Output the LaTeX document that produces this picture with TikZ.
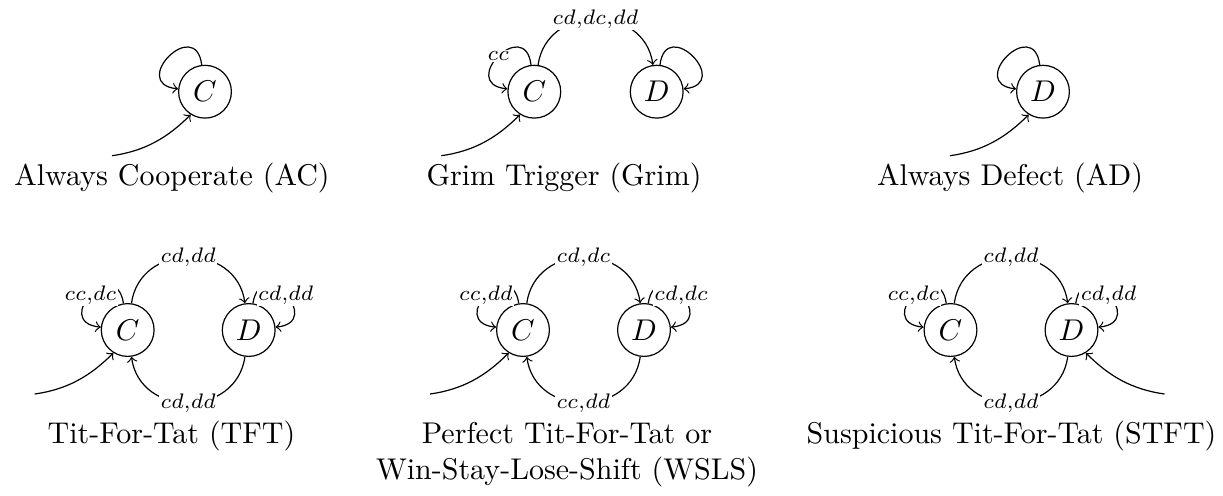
\documentclass[tikz,border=0pt]{standalone}
\begin{document}
\begin{tikzpicture}[x=0.3333pt,y=0.3333pt,
  state/.style={circle,draw,inner sep=0pt,minimum size=17.6pt},
  lbl/.style={font=\scriptsize,fill=white,inner sep=0.5pt},
  captxt/.style={anchor=base,inner sep=0pt},
  tr/.style={->}]
\useasboundingbox (0,0) rectangle (1223,495);
% ---------- Always Cooperate
\node[state] (C1) at (205,403.3) {$C$};
\coordinate (s1) at (112,339.3);
\draw[tr] (C1.97) .. controls +(97:50) and +(174:50) .. (C1.174);
\draw[tr] (s1) .. controls +(8:33) and +(225:33) .. (C1.238);
\node[captxt] (cap1) at (172,310) {Always Cooperate (AC)};
% ---------- Grim Trigger
\node[state] (C2) at (534.3,403.3) {$C$};
\node[state] (D2) at (656.7,403.3) {$D$};
\coordinate (s2) at (441.3,339.3);
\draw[tr] (C2.97) .. controls +(97:50) and +(174:50) .. node[lbl,midway] {$cc$} (C2.174);
\draw[tr] (D2.83) .. controls +(83:50) and +(6:50) .. (D2.6);
\draw[tr] (C2.82) .. controls +(82:62) and +(98:62) .. node[lbl,midway] {$cd{,}dc{,}dd$} (D2.98);
\draw[tr] (s2) .. controls +(8:33) and +(225:33) .. (C2.238);
\node[captxt] (cap2) at (564,310) {Grim Trigger (Grim)};
% ---------- Always Defect
\node[state] (D3) at (1043,403.3) {$D$};
\coordinate (s3) at (950,339.3);
\draw[tr] (D3.97) .. controls +(97:50) and +(174:50) .. (D3.174);
\draw[tr] (s3) .. controls +(8:33) and +(225:33) .. (D3.238);
\node[captxt] (cap3) at (1010,310) {Always Defect (AD)};
% ---------- Tit-For-Tat
\node[state] (C4) at (127.7,165) {$C$};
\node[state] (D4) at (248.7,165) {$D$};
\coordinate (s4) at (34.7,101);
\draw[tr] (C4.99) .. controls +(99:50) and +(174:50) .. node[lbl,midway] {$cc{,}dc$} (C4.174);
\draw[tr] (D4.81) .. controls +(81:50) and +(6:50) .. node[lbl,midway] {$cd{,}dd$} (D4.6);
\draw[tr] (C4.82) .. controls +(82:62) and +(98:62) .. node[lbl,midway] {$cd{,}dd$} (D4.98);
\draw[tr] (D4.262) .. controls +(262:62) and +(278:62) .. node[lbl,midway] {$cd{,}dd$} (C4.278);
\draw[tr] (s4) .. controls +(8:33) and +(225:33) .. (C4.238);
\node[captxt] (cap4) at (171.5,52) {Tit-For-Tat (TFT)};
% ---------- WSLS
\node[state] (C5) at (523,165) {$C$};
\node[state] (D5) at (644,165) {$D$};
\coordinate (s5) at (430,101);
\draw[tr] (C5.99) .. controls +(99:50) and +(174:50) .. node[lbl,midway] {$cc{,}dd$} (C5.174);
\draw[tr] (D5.81) .. controls +(81:50) and +(6:50) .. node[lbl,midway] {$cd{,}dc$} (D5.6);
\draw[tr] (C5.82) .. controls +(82:62) and +(98:62) .. node[lbl,midway] {$cd{,}dc$} (D5.98);
\draw[tr] (D5.262) .. controls +(262:62) and +(278:62) .. node[lbl,midway] {$cc{,}dd$} (C5.278);
\draw[tr] (s5) .. controls +(8:33) and +(225:33) .. (C5.238);
\node[captxt] (cap5a) at (567,52) {Perfect Tit-For-Tat or};
\node[captxt] (cap5b) at (567,16) {Win-Stay-Lose-Shift (WSLS)};
% ---------- STFT
\node[state] (C6) at (950.5,165) {$C$};
\node[state] (D6) at (1071.5,165) {$D$};
\coordinate (s6) at (1164.5,101);
\draw[tr] (C6.99) .. controls +(99:50) and +(174:50) .. node[lbl,midway] {$cc{,}dc$} (C6.174);
\draw[tr] (D6.81) .. controls +(81:50) and +(6:50) .. node[lbl,midway] {$cd{,}dd$} (D6.6);
\draw[tr] (C6.82) .. controls +(82:62) and +(98:62) .. node[lbl,midway] {$cd{,}dd$} (D6.98);
\draw[tr] (D6.262) .. controls +(262:62) and +(278:62) .. node[lbl,midway] {$cd{,}dd$} (C6.278);
\draw[tr] (s6) .. controls +(172:33) and +(315:33) .. (D6.302);
\node[captxt] (cap6) at (1011.5,52) {Suspicious Tit-For-Tat (STFT)};
\end{tikzpicture}
\end{document}
